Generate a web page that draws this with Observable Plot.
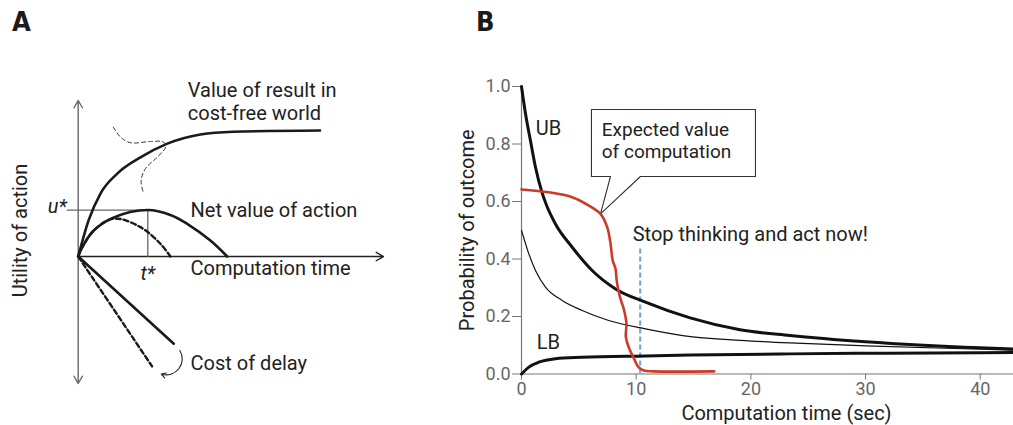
<!DOCTYPE html>
<html><head><meta charset="utf-8">
<script src="https://cdn.jsdelivr.net/npm/d3@7"></script>
<script src="https://cdn.jsdelivr.net/npm/@observablehq/plot@0.6"></script>
<style>
body{margin:0;background:#fff;}
#wrap{position:relative;width:1013px;height:425px;overflow:hidden;font-family:Roboto,sans-serif;}
#pa{position:absolute;left:0;top:0;}
#pb{position:absolute;left:440px;top:0;}
.panel{position:absolute;top:6px;font:bold 27px "Liberation Sans Narrow","DejaVu Sans Condensed",sans-serif;color:#1a1a1a;}
</style></head><body>
<div id="wrap"><div id="pa"></div><div id="pb"></div><div class="panel" style="left:12px">A</div><div class="panel" style="left:476px">B</div></div>
<script>
// ---------- Panel A (conceptual curves, arbitrary units) ----------
const resultCurve = [[0,0],[0.34,1.18],[0.73,2.06],[1.28,2.71],[2.04,3.24],[2.92,3.69],[4.0,3.99],[5.08,4.08],[7.92,4.12]];
const tangentSketch = [[1.15,4.23],[1.39,3.9],[1.71,3.72],[2.37,3.76],[2.8,3.74],[2.86,3.57],[2.59,3.25],[2.2,2.87],[2.06,2.48],[2.13,2.1]];
const netValue = [[0,0],[0.13,0.3],[0.51,0.85],[1.17,1.28],[2.28,1.52],[3.02,1.36],[3.57,1.07],[4.33,0.52],[4.88,0]];
const netValueDashed = [[0,0],[0.13,0.3],[0.51,0.85],[1.17,1.24],[2.04,0.96],[2.7,0.41],[3.02,0]];
const costDelay = [[0,0],[3.13,-2.85]];
const costDelayDashed = [[0,0],[2.42,-3.59]];
const tStar = 2.28, uStar = 1.52;

// ---------- Panel B ----------
const xTicksB = [0,10,20,30,40];
const yTicksB = [0,0.2,0.4,0.6,0.8,1.0];
const ubT = [0,0.35,0.78,1.22,1.8,2.2,2.96,4.42,6.16,8.2,10.81,14.7,19.05,23.4,30,40,42.9];
const ubP = [1.0,0.905,0.812,0.719,0.63,0.585,0.522,0.441,0.36,0.296,0.25,0.195,0.154,0.134,0.112,0.091,0.087];
const midT = [0,0.64,1.22,2.09,3.55,5.29,7.61,10.81,14.73,19.09,23.4,30,40,42.9];
const midP = [0.5,0.418,0.36,0.302,0.256,0.221,0.186,0.157,0.13,0.117,0.108,0.098,0.086,0.083];
const lbT = [0,0.64,1.51,2.96,5.29,10.81,14.7,23.4,30,40,42.9];
const lbP = [0,0.024,0.041,0.053,0.058,0.063,0.066,0.07,0.072,0.074,0.075];
const evcT = [0,2.38,4.42,5.87,6.89,7.47,7.76,7.95,8.2,8.3,8.55,8.95,9.15,9.1,9.35,9.79,10.2,10.66,11.5,16.8];
const evcP = [0.642,0.632,0.615,0.586,0.557,0.511,0.455,0.395,0.366,0.325,0.273,0.221,0.175,0.128,0.093,0.055,0.024,0.012,0.009,0.009];
const stopTime = 10.35, stopTop = 0.44;

const font = "Roboto, 'Noto Sans', sans-serif";
const xy = {x: d => d[0], y: d => d[1]};
const zip = (a, b) => a.map((t, i) => [t, b[i]]);

const A = Plot.plot({
  width: 440, height: 425,
  marginLeft: 77.7, marginRight: 57, marginTop: 100, marginBottom: 42,
  x: {domain: [0, 10], axis: null},
  y: {domain: [-4.15, 5.1], axis: null},
  style: {fontFamily: font, fontSize: "20px", color: "#222", background: "transparent", overflow: "visible"},
  marks: [
    Plot.arrow([{a:0,b:0,c:0,d:5.1},{a:0,b:0,c:0,d:-4.15}], {x1:"a",y1:"b",x2:"c",y2:"d", stroke:"#666", strokeWidth:1.4, headLength:9}),
    Plot.arrow([{a:0,b:0,c:10,d:0}], {x1:"a",y1:"b",x2:"c",y2:"d", stroke:"#222", strokeWidth:1.4, headLength:9}),
    Plot.line([[-0.36,uStar],[tStar,uStar],[tStar,0]], {...xy, stroke:"#666", strokeWidth:1.3}),
    Plot.line(resultCurve, {...xy, curve:"monotone-x", stroke:"#1a1a1a", strokeWidth:2.6}),
    Plot.line(tangentSketch, {...xy, curve:"catmull-rom", stroke:"#333", strokeWidth:1, strokeDasharray:"4,3"}),
    Plot.line(netValue, {...xy, curve:"catmull-rom", stroke:"#1a1a1a", strokeWidth:2.6}),
    Plot.line(netValueDashed, {...xy, curve:"catmull-rom", stroke:"#1a1a1a", strokeWidth:2.4, strokeDasharray:"5,3"}),
    Plot.line(costDelay, {...xy, stroke:"#1a1a1a", strokeWidth:2.6}),
    Plot.line(costDelayDashed, {...xy, stroke:"#1a1a1a", strokeWidth:2.4, strokeDasharray:"5,3"}),
    Plot.arrow([{a:3.33,b:-3.07,c:2.72,d:-3.84}], {x1:"a",y1:"b",x2:"c",y2:"d", bend:70, stroke:"#222", strokeWidth:1.1, headLength:7}),
    Plot.text(["Value of result in","cost-free world"], {x: 3.59, y: (d,i) => 5.42 - i*0.75, text: d=>d, textAnchor:"start", fill:"#222"}),
    Plot.text(["Net value of action"], {x: 3.68, y: 1.5, text:d=>d, textAnchor:"start", fill:"#222"}),
    Plot.text(["Computation time"], {x: 3.68, y: -0.39, text:d=>d, textAnchor:"start", fill:"#222"}),
    Plot.text(["Cost of delay"], {x: 3.68, y: -3.5, text:d=>d, textAnchor:"start", fill:"#222"}),
    Plot.text(["u*"], {x: -0.37, y: uStar + 0.1, text:d=>d, textAnchor:"end", fontStyle:"italic", fill:"#222"}),
    Plot.text(["t*"], {x: tStar, y: -0.55, text:d=>d, fontStyle:"italic", fill:"#222"}),
    Plot.text(["Utility of action"], {x: -1.89, y: 0.85, text:d=>d, rotate:-90, textAnchor:"middle", lineAnchor:"middle", fill:"#222"})
  ]
});
document.getElementById("pa").append(A);

const calloutBox = [[7.76,0.687],[6.1,0.687],[6.1,0.92],[20.4,0.92],[20.4,0.687],[10.37,0.687],[6.89,0.557],[7.76,0.687]];

const B = Plot.plot({
  width: 573, height: 425,
  marginLeft: 81, marginRight: 0, marginTop: 86, marginBottom: 51.5,
  x: {domain: [0, 42.9]},
  y: {domain: [0, 1]},
  style: {fontFamily: font, fontSize: "20px", color: "#222", background: "transparent", overflow: "visible"},
  marks: [
    Plot.axisX({ticks: xTicksB, tickSize: 6, tickPadding: 2, label: null, stroke:"#777", fill:"#666", fontSize: 18, tickFormat: d => String(d)}),
    Plot.axisY({ticks: yTicksB, tickSize: 9, tickPadding: 2, label: null, stroke:"#777", fill:"#666", fontSize: 18, tickFormat: d => d.toFixed(1)}),
    Plot.ruleY([0], {stroke:"#777", strokeWidth:1.2}),
    Plot.ruleX([0], {stroke:"#777", strokeWidth:1.2}),
    Plot.line(calloutBox, {...xy, fill:"white", stroke:"#333", strokeWidth:1.1}),
    Plot.text(["Expected value","of computation"], {x: 7.0, y: (d,i) => 0.85 - i*0.079, text:d=>d, textAnchor:"start", fontSize: 19, fill:"#222"}),
    Plot.ruleX([stopTime], {y1: 0, y2: stopTop, stroke:"#7ba7cb", strokeWidth:2.2, strokeDasharray:"5,3"}),
    Plot.line(zip(midT, midP), {...xy, curve:"monotone-x", stroke:"#111", strokeWidth:1.2}),
    Plot.line(zip(ubT, ubP), {...xy, curve:"monotone-x", stroke:"#111", strokeWidth:3}),
    Plot.line(zip(lbT, lbP), {...xy, curve:"monotone-x", stroke:"#111", strokeWidth:3}),
    Plot.line(zip(evcT, evcP), {...xy, curve:"catmull-rom", stroke:"#cc3a2a", strokeWidth:2.6}),
    Plot.text(["UB"], {x: 2.35, y: 0.854, text:d=>d, fill:"#222"}),
    Plot.text(["LB"], {x: 2.35, y: 0.11, text:d=>d, fill:"#222"}),
    Plot.text(["Stop thinking and act now!"], {x: 9.7, y: 0.485, text:d=>d, textAnchor:"start", fill:"#222"}),
    Plot.text(["Computation time (sec)"], {frameAnchor:"bottom", dx: 19, dy: 40, lineAnchor:"middle", text:d=>d, fill:"#222"}),
    Plot.text(["Probability of outcome"], {frameAnchor:"left", dx: -54, rotate:-90, textAnchor:"middle", lineAnchor:"middle", text:d=>d, fill:"#222"})
  ]
});
document.getElementById("pb").append(B);
</script>
</body></html>
